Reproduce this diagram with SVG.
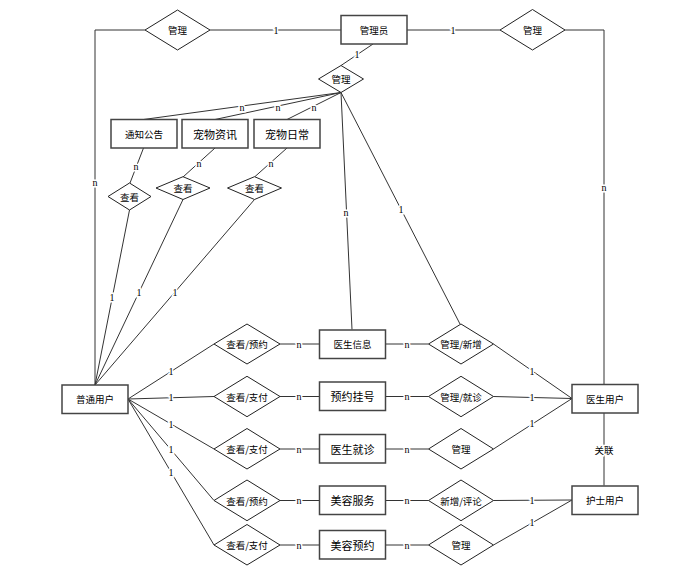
<svg xmlns="http://www.w3.org/2000/svg" width="693" height="580" viewBox="0 0 693 580">
<style>
.ent{fill:#fff;stroke:#444;stroke-width:1.5}
.rel{fill:#fff;stroke:#222;stroke-width:1}
.ln{fill:none;stroke:#333;stroke-width:1}
.t{font-family:"Noto Sans CJK SC","Noto Sans CJK JP",sans-serif;font-size:9.5px;fill:#000;text-anchor:middle;dominant-baseline:central}
.tb{font-size:11px}
.lbl{font-family:"Liberation Serif",serif;font-size:10px;fill:#000;text-anchor:middle;dominant-baseline:central;paint-order:stroke;stroke:#fff;stroke-width:3px}
</style>
<rect width="693" height="580" fill="#fff"/>
<g id="connectors">
<polyline class="ln" points="145,30 95,30 95,385"/>
<line class="ln" x1="210" y1="30" x2="341" y2="30"/>
<line class="ln" x1="407" y1="30" x2="500" y2="30"/>
<polyline class="ln" points="565,30 604,30 604,384"/>
<line class="ln" x1="373" y1="44" x2="341" y2="65.5"/>
<line class="ln" x1="341" y1="92.5" x2="143.5" y2="119.5"/>
<line class="ln" x1="341" y1="92.5" x2="215" y2="119.5"/>
<line class="ln" x1="341" y1="92.5" x2="287" y2="119.5"/>
<line class="ln" x1="341" y1="92.5" x2="352" y2="329.5"/>
<line class="ln" x1="341" y1="92.5" x2="460" y2="324"/>
<line class="ln" x1="143.5" y1="148" x2="130" y2="183"/>
<line class="ln" x1="215" y1="148" x2="183" y2="177"/>
<line class="ln" x1="287" y1="148" x2="254.5" y2="177"/>
<line class="ln" x1="129.5" y1="210" x2="95" y2="385"/>
<line class="ln" x1="183" y1="199.5" x2="95" y2="385"/>
<line class="ln" x1="254.5" y1="199.5" x2="95" y2="385"/>
<line class="ln" x1="128" y1="399" x2="214" y2="344"/>
<line class="ln" x1="128" y1="399" x2="214" y2="396.5"/>
<line class="ln" x1="128" y1="399" x2="214" y2="449"/>
<line class="ln" x1="128" y1="399" x2="214" y2="500.5"/>
<line class="ln" x1="128" y1="399" x2="214" y2="545"/>
<line class="ln" x1="280" y1="344" x2="319.5" y2="344"/>
<line class="ln" x1="280" y1="396.5" x2="319.5" y2="396.5"/>
<line class="ln" x1="280" y1="449" x2="319.5" y2="449"/>
<line class="ln" x1="280" y1="500.5" x2="319.5" y2="500.5"/>
<line class="ln" x1="280" y1="545" x2="319.5" y2="545"/>
<line class="ln" x1="385.5" y1="344" x2="428.5" y2="344"/>
<line class="ln" x1="385.5" y1="396.5" x2="428.5" y2="396.5"/>
<line class="ln" x1="385.5" y1="449" x2="428.5" y2="449"/>
<line class="ln" x1="385.5" y1="500.5" x2="428.5" y2="500.5"/>
<line class="ln" x1="385.5" y1="545" x2="428.5" y2="545"/>
<line class="ln" x1="493.5" y1="344" x2="572" y2="398.5"/>
<line class="ln" x1="493.5" y1="396.5" x2="572" y2="398.5"/>
<line class="ln" x1="493.5" y1="449" x2="572" y2="398.5"/>
<line class="ln" x1="493.5" y1="500.5" x2="572" y2="500"/>
<line class="ln" x1="493.5" y1="545" x2="572" y2="500"/>
<line class="ln" x1="604" y1="413" x2="604" y2="485.5"/>
<text class="lbl" x="276" y="30">1</text>
<text class="lbl" x="453" y="30">1</text>
<text class="lbl" x="95" y="182">n</text>
<text class="lbl" x="604" y="187">n</text>
<text class="lbl" x="357" y="54">1</text>
<text class="lbl" x="242" y="107">n</text>
<text class="lbl" x="278" y="107">n</text>
<text class="lbl" x="314" y="107">n</text>
<text class="lbl" x="346" y="212">n</text>
<text class="lbl" x="401" y="209">1</text>
<text class="lbl" x="136" y="166">n</text>
<text class="lbl" x="199" y="163">n</text>
<text class="lbl" x="271" y="163">n</text>
<text class="lbl" x="112" y="297">1</text>
<text class="lbl" x="139" y="292">1</text>
<text class="lbl" x="175" y="292">1</text>
<text class="lbl" x="171" y="371.5">1</text>
<text class="lbl" x="171" y="397.7">1</text>
<text class="lbl" x="171" y="424">1</text>
<text class="lbl" x="171" y="449.5">1</text>
<text class="lbl" x="171" y="472">1</text>
<text class="lbl" x="299" y="344">n</text>
<text class="lbl" x="299" y="396.5">n</text>
<text class="lbl" x="299" y="449">n</text>
<text class="lbl" x="299" y="500.5">n</text>
<text class="lbl" x="299" y="545">n</text>
<text class="lbl" x="407" y="344">n</text>
<text class="lbl" x="407" y="396.5">n</text>
<text class="lbl" x="407" y="449">n</text>
<text class="lbl" x="407" y="500.5">n</text>
<text class="lbl" x="407" y="545">n</text>
<text class="lbl" x="532" y="371">1</text>
<text class="lbl" x="532" y="397.5">1</text>
<text class="lbl" x="532" y="423.5">1</text>
<text class="lbl" x="532" y="500.3">1</text>
<text class="lbl" x="532" y="522.5">1</text>
<text class="lbl" x="604" y="449.5" style="font-family:'Noto Sans CJK SC',sans-serif;font-size:9.5px">关联</text>
</g>
<g id="rel-admin-user"><polygon class="rel" points="145,30 177.5,10 210,30 177.5,50"/><text class="t" x="177.5" y="30">管理</text></g>
<g id="admin"><rect class="ent" x="341" y="15.5" width="66" height="28.5"/><text class="t" x="374" y="29.7">管理员</text></g>
<g id="rel-admin-doctor"><polygon class="rel" points="500,30 532.5,9.5 565,30 532.5,50"/><text class="t" x="532.5" y="30">管理</text></g>
<g id="rel-admin-content"><polygon class="rel" points="318.5,79 341,65.5 363.5,79 341,92.5"/><text class="t" x="341" y="79">管理</text></g>
<g id="notice"><rect class="ent" x="111" y="119.5" width="66" height="28.5"/><text class="t" x="144" y="133.7">通知公告</text></g>
<g id="petnews"><rect class="ent" x="182" y="119.5" width="66" height="28.5"/><text class="t tb" x="215" y="133.7">宠物资讯</text></g>
<g id="petdaily"><rect class="ent" x="254" y="119.5" width="66" height="28.5"/><text class="t tb" x="287" y="133.7">宠物日常</text></g>
<g id="view1"><polygon class="rel" points="108,196.5 129.5,183 151,196.5 129.5,210"/><text class="t" x="129.5" y="196.5">查看</text></g>
<g id="view2"><polygon class="rel" points="156,188 183,176.7 210,188 183,199.5"/><text class="t" x="183" y="188">查看</text></g>
<g id="view3"><polygon class="rel" points="227.5,188 254.5,176.7 281.5,188 254.5,199.5"/><text class="t" x="254.5" y="188">查看</text></g>
<g id="user"><rect class="ent" x="62" y="385" width="66" height="28.5"/><text class="t" x="95" y="399.2">普通用户</text></g>
<g id="u-r1"><polygon class="rel" points="214,344 247,324 280,344 247,364"/><text class="t" x="247" y="344">查看/预约</text></g>
<g id="u-r2"><polygon class="rel" points="214,396.5 247,376.3 280,396.5 247,416.7"/><text class="t" x="247" y="396.5">查看/支付</text></g>
<g id="u-r3"><polygon class="rel" points="214,449 247,428.5 280,449 247,469"/><text class="t" x="247" y="449">查看/支付</text></g>
<g id="u-r4"><polygon class="rel" points="214,500.5 247,480 280,500.5 247,520.7"/><text class="t" x="247" y="500.5">查看/预约</text></g>
<g id="u-r5"><polygon class="rel" points="214,545 247,524.5 280,545 247,565"/><text class="t" x="247" y="545">查看/支付</text></g>
<g id="docinfo"><rect class="ent" x="319.5" y="330" width="66" height="28.5"/><text class="t" x="352.5" y="344.2">医生信息</text></g>
<g id="appoint"><rect class="ent" x="319.5" y="382" width="66" height="28.5"/><text class="t tb" x="352.5" y="396.2">预约挂号</text></g>
<g id="visit"><rect class="ent" x="319.5" y="434.5" width="66" height="28.5"/><text class="t tb" x="352.5" y="448.7">医生就诊</text></g>
<g id="beauty"><rect class="ent" x="319.5" y="486" width="66" height="28.5"/><text class="t tb" x="352.5" y="500.2">美容服务</text></g>
<g id="beautyappt"><rect class="ent" x="319.5" y="530.5" width="66" height="28.5"/><text class="t tb" x="352.5" y="544.7">美容预约</text></g>
<g id="d-r1"><polygon class="rel" points="428.5,344 461,324 493.5,344 461,364"/><text class="t" x="461" y="344">管理/新增</text></g>
<g id="d-r2"><polygon class="rel" points="428.5,396.5 461,376.3 493.5,396.5 461,416.7"/><text class="t" x="461" y="396.5">管理/就诊</text></g>
<g id="d-r3"><polygon class="rel" points="428.5,449 461,428.5 493.5,449 461,469"/><text class="t" x="461" y="449">管理</text></g>
<g id="n-r4"><polygon class="rel" points="428.5,500.5 461,480 493.5,500.5 461,520.7"/><text class="t" x="461" y="500.5">新增/评论</text></g>
<g id="n-r5"><polygon class="rel" points="428.5,545 461,524.5 493.5,545 461,565"/><text class="t" x="461" y="545">管理</text></g>
<g id="doctor"><rect class="ent" x="572" y="384.5" width="66" height="28.5"/><text class="t" x="605" y="398.7">医生用户</text></g>
<g id="nurse"><rect class="ent" x="572" y="486" width="66" height="28.5"/><text class="t" x="605" y="500.2">护士用户</text></g>
</svg>
